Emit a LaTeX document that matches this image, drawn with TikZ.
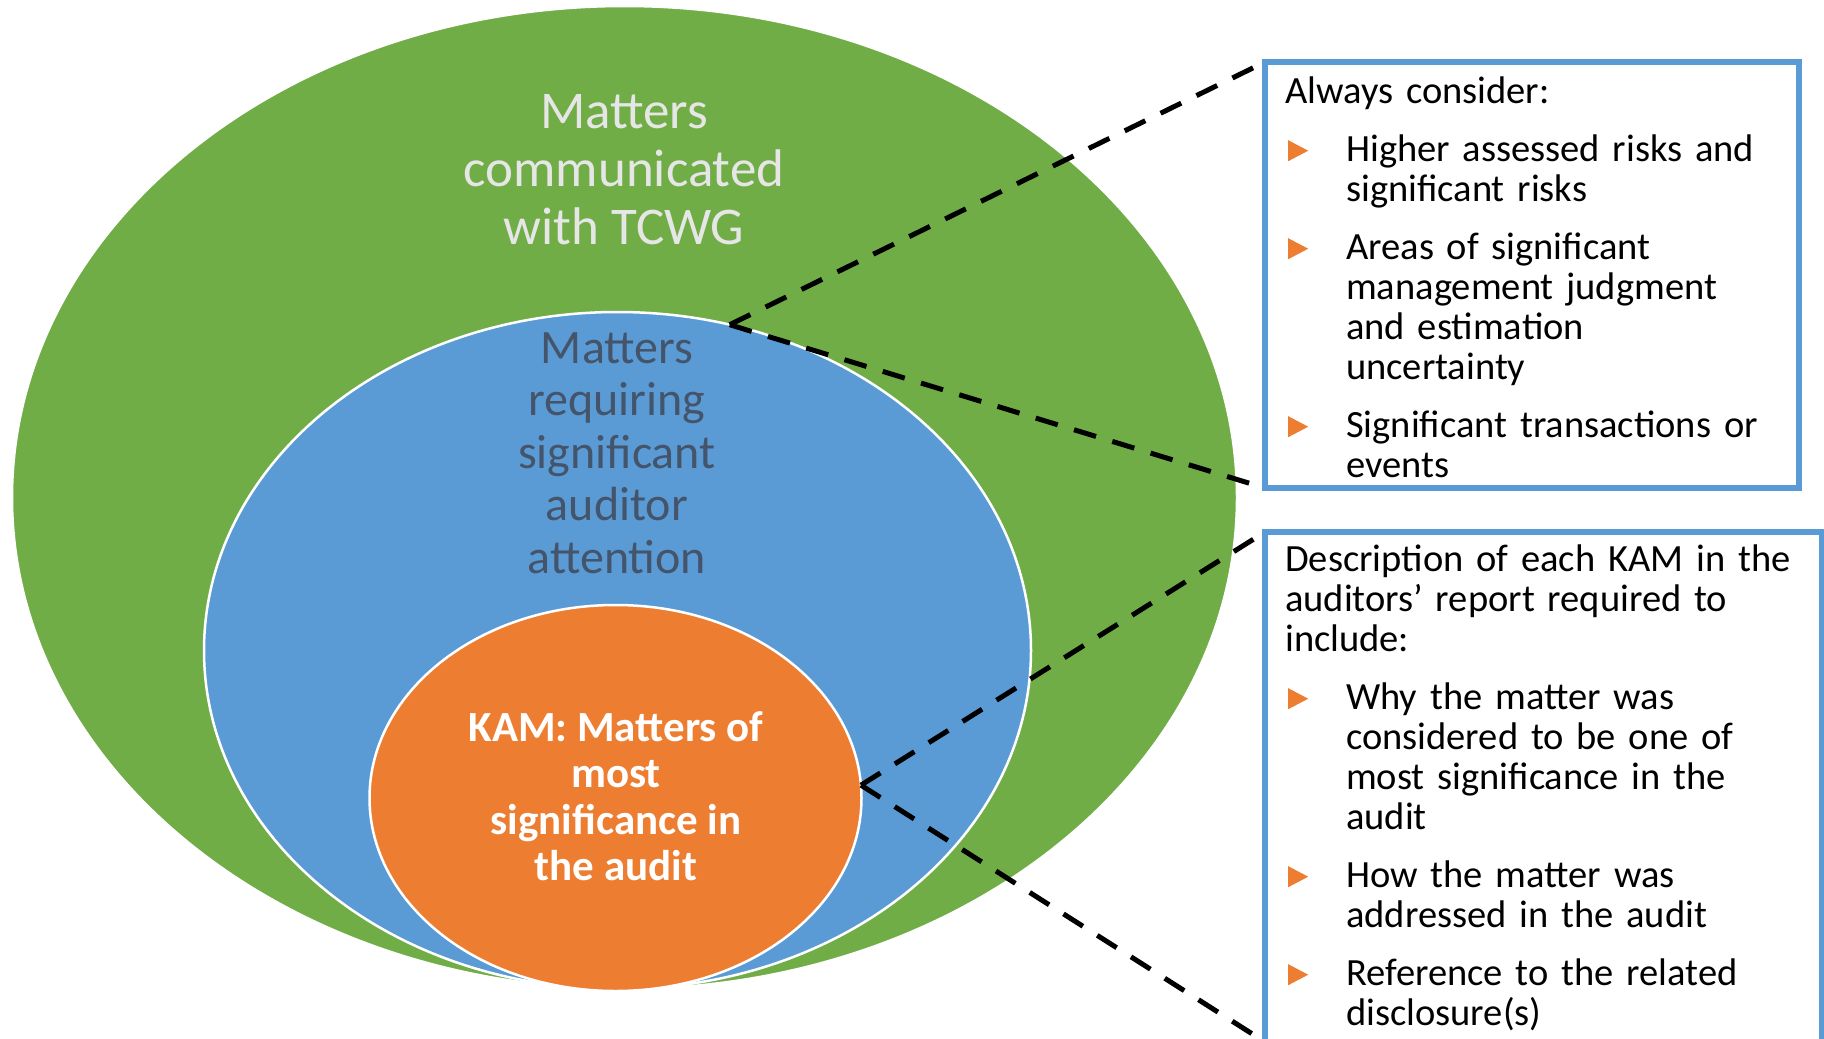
\documentclass[tikz,border=0pt]{standalone}
\usepackage{fontspec}
\setmainfont{Carlito}
\usetikzlibrary{shapes.geometric}

\definecolor{tcwggreen}{HTML}{70AD47}
\definecolor{attnblue}{HTML}{5B9BD5}
\definecolor{kamorange}{HTML}{ED7D31}
\definecolor{attntext}{HTML}{44546A}
\definecolor{tcwgtext}{HTML}{E7E6E6}

\tikzstyle{matter} = [ellipse, draw=white, line width=2.5pt, inner sep=0pt, outer sep=0pt]
\tikzstyle{infobox} = [rectangle, draw=attnblue, line width=5.5pt, fill=white, anchor=north west, inner sep=0pt, outer sep=0pt]
\tikzstyle{boxtext} = [anchor=north west, inner sep=0pt, text width=532pt, align=left, font=\fontsize{38.5}{40}\selectfont]
\tikzstyle{label} = [anchor=north, inner sep=0pt, align=center]
\tikzstyle{callout} = [line width=5pt, dash pattern=on 23pt off 17pt]

\newcommand{\kamtri}{\tikz[baseline=0pt]\fill[kamorange] (0pt,0pt)--(0pt,21pt)--(20pt,10.5pt)--cycle;}
\newcommand{\kampoint}[1]{\par{\leftskip=61pt\noindent\llap{\makebox[58pt][l]{\kamtri}}#1\par}}

\begin{document}
\begin{tikzpicture}[x=1pt, y=-1pt]
\useasboundingbox (0,0) rectangle (1824,1039);
% nested matters
\node (tcwg) [matter, fill=tcwggreen, minimum width=1225pt, minimum height=983pt] at (624.5,497.5) {};
\node (attn) [matter, fill=attnblue, minimum width=827pt, minimum height=677pt] at (617.5,650.5) {};
\node (kam) [matter, fill=kamorange, minimum width=492pt, minimum height=386pt] at (615.5,798) {};
\node (tcwglabel) [label, text=tcwgtext, font=\fontsize{53}{58}\selectfont] at (624,83) {\rule{0pt}{45pt}Matters\\communicated\\with TCWG};
\node (attnlabel) [label, text=attntext, font=\fontsize{48}{52.5}\selectfont] at (617,323) {\rule{0pt}{40pt}Matters\\requiring\\significant\\auditor\\attention};
\node (kamlabel) [label, text=white, font=\fontsize{43}{46.5}\selectfont\bfseries] at (616,705) {\rule{0pt}{36pt}KAM: Matters of\\most\\significance in\\the audit};
% callout boxes
\node (consider) [infobox, minimum width=534pt, minimum height=426pt] at (1265,62) {};
\node (kamdesc) [infobox, minimum width=557pt, minimum height=510pt] at (1265,532) {};
\node (considertxt) [boxtext] at ([shift={(20,13)}]consider.north west) {\setlength{\parskip}{18pt}\rule{0pt}{28pt}Always consider:
\kampoint{Higher assessed risks and\\significant risks}
\kampoint{Areas of significant\\management judgment\\and estimation\\uncertainty}
\kampoint{Significant transactions or\\events}};
\node (kamdesctxt) [boxtext] at ([shift={(20,11)}]kamdesc.north west) {\setlength{\parskip}{18pt}\rule{0pt}{28pt}Description of each KAM in the\\auditors’ report required to\\include:
\kampoint{Why the matter was\\considered to be one of\\most significance in the\\audit}
\kampoint{How the matter was\\addressed in the audit}
\kampoint{Reference to the related\\disclosure(s)}};
% dashed callouts
\draw [callout] (attn.71) -- (consider.north west);
\draw [callout] (attn.71) -- (consider.south west);
\draw [callout] (kam.3) -- (kamdesc.north west);
\draw [callout] (kam.3) -- (kamdesc.south west);
\end{tikzpicture}
\end{document}
